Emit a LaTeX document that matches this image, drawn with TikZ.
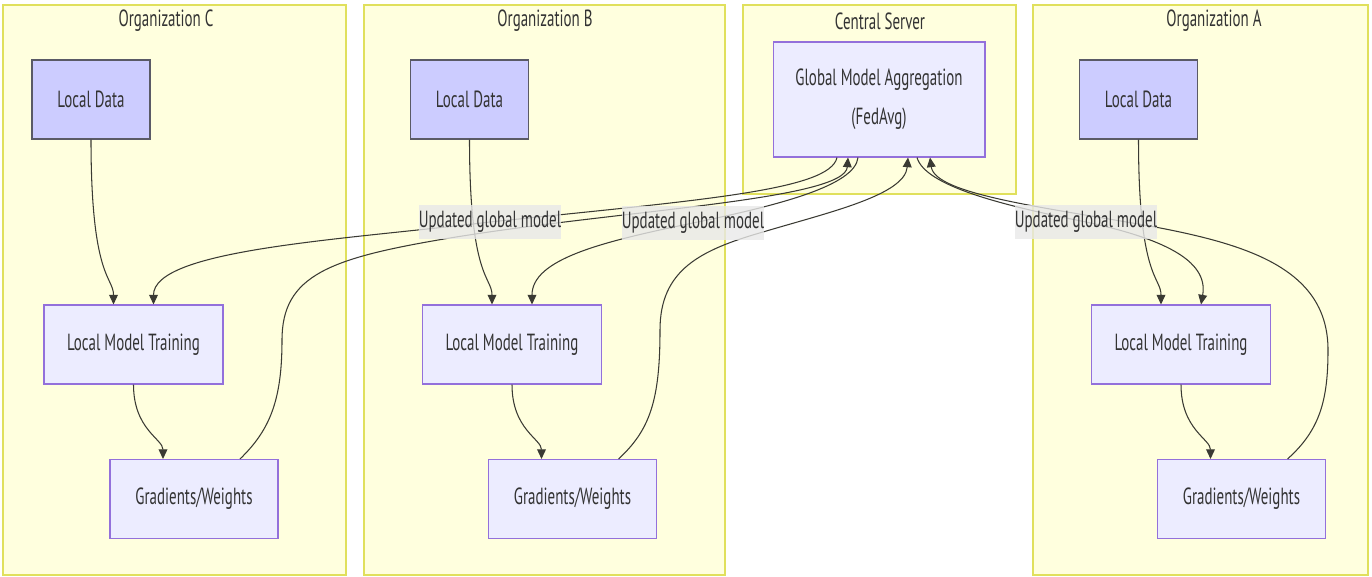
\documentclass[tikz,border=0pt]{standalone}
\usepackage{fontspec}
\setmainfont{PT Sans}[FakeStretch=0.64]
\usetikzlibrary{arrows.meta,calc}

\definecolor{clusterfill}{HTML}{FFFFDE}
\definecolor{clusterline}{HTML}{E0E05C}
\definecolor{boxfill}{HTML}{ECECFF}
\definecolor{boxline}{HTML}{9370DB}
\definecolor{datafill}{HTML}{CCCCFF}
\definecolor{dataline}{HTML}{5A5A66}
\definecolor{edgeline}{HTML}{3A3A33}
\definecolor{labelfill}{HTML}{E8E8E8}
\definecolor{txt}{HTML}{333333}

\begin{document}
\begin{tikzpicture}[x=0.02cm, y=-0.02cm, >={Triangle[length=5.5pt,width=5pt]},
  font=\fontsize{13.3}{15}\selectfont, text=txt,
  cluster/.style={draw=clusterline, fill=clusterfill, line width=0.9pt},
  proc/.style={draw=boxline, fill=boxfill, line width=0.6pt, minimum width=3.58cm, minimum height=1.58cm, inner sep=0pt},
  data/.style={proc, draw=dataline, fill=datafill, minimum width=2.36cm},
  grad/.style={proc, minimum width=3.36cm},
  flow/.style={->, draw=edgeline, line width=0.6pt},
  flowlbl/.style={fill=labelfill, fill opacity=0.8, text opacity=1, minimum width=2.74cm, minimum height=0.7cm, inner sep=0pt}]
  \useasboundingbox (0,0) rectangle (1372,577);

  % subgraphs
  \draw[cluster] (3,5) rectangle (346,575);
  \draw[cluster] (364,5) rectangle (725,575);
  \draw[cluster] (743,5) rectangle (1016,194);
  \draw[cluster] (1033,5) rectangle (1368,575);
  \node (tC) at (166,21) {Organization C};
  \node (tB) at (545,21) {Organization B};
  \node (tS) at (880,21) {Central Server};
  \node (tA) at (1214,21) {Organization A};

  \node[proc, minimum width=4.24cm, minimum height=2.3cm, align=center] (gma) at (879,99.5)
    {Global Model Aggregation\\[7pt](FedAvg)};

  % one column per organization
  \foreach \o/\dx in {C/0, B/378.5, A/1047.5} {
    \node[data] (ld\o) at (91+\dx,99.5) {Local Data};
    \node[proc] (lmt\o) at (133.5+\dx,344.5) {Local Model Training};
    \node[grad] (gw\o) at (194+\dx,499) {Gradients/Weights};
    \draw[flow] (ld\o.south) .. controls +(0,140) and +(0,-28) .. ($(lmt\o.north)+(-20,0)$);
    \draw[flow] (lmt\o.south) .. controls +(0,45) and +(0,-20) .. ($(gw\o.north)+(-31,0)$);
  }

  \coordinate (u1) at (490,222);
  \coordinate (u2) at (693,223);
  \coordinate (u3) at (1086,222);

  % global model back to the organizations
  \draw[flow] ($(gma.south)+(-42,0)$) .. controls +(-7,33) and +(210,-22) .. (u1)
    .. controls +(-150,18) and +(0,-55) .. ($(lmtC.north)+(20,0)$);
  \draw[flow] ($(gma.south)+(-21,0)$) .. controls +(-3,28) and +(87,-18) .. (u2)
    .. controls +(-93,19) and +(0,-45) .. ($(lmtB.north)+(20,0)$);
  \draw[flow] ($(gma.south)+(38,0)$) .. controls +(8,28) and +(-86,-17) .. (u3)
    .. controls +(74,16) and +(8,-45) .. ($(lmtA.north)+(20,0)$);

  % gradients up to the server
  \draw[flow] ($(gwC.north)+(46,0)$) .. controls (270,430) and (282,400) .. (282,340)
    .. controls (282,275) and (330,258) .. (450,238)
    .. controls (620,210) and (845,200) .. ($(gma.south)+(-31,0)$);
  \draw[flow] ($(gwB.north)+(46,0)$) .. controls (650,430) and (660,400) .. (660,330)
    .. controls (660,270) and (700,250) .. (763,232)
    .. controls (830,212) and (905,195) .. ($(gma.south)+(29,0)$);
  \draw[flow] ($(gwA.north)+(46,0)$) .. controls (1320,430) and (1328,400) .. (1328,350)
    .. controls (1328,270) and (1250,245) .. (1155,227)
    .. controls (1050,208) and (935,195) .. ($(gma.south)+(51,0)$);

  \node[flowlbl] (lblC) at (u1) {Updated global model};
  \node[flowlbl] (lblB) at (u2) {Updated global model};
  \node[flowlbl] (lblA) at (u3) {Updated global model};
\end{tikzpicture}
\end{document}
